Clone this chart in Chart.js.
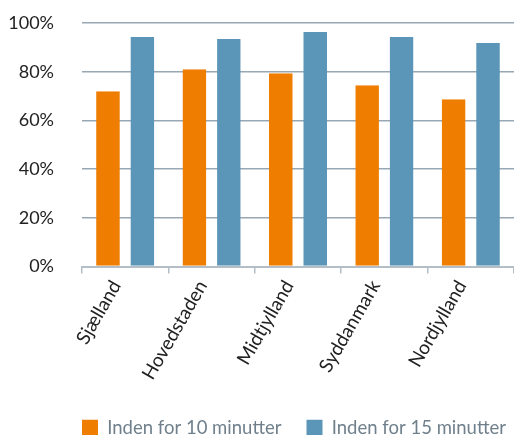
<!DOCTYPE html>
<html><head><meta charset="utf-8">
<script src="https://cdn.jsdelivr.net/npm/chart.js@4/dist/chart.umd.min.js"></script>
<style>html,body{margin:0;padding:0;background:#fff;}#wrap{width:514px;height:435px;}</style>
</head><body><div id="wrap"><canvas id="c"></canvas></div>
<script>
const categories = ["Sjælland", "Hovedstaden", "Midtjylland", "Syddanmark", "Nordjylland"];
const within10 = [72.0, 81.0, 79.4, 74.4, 68.7];
const within15 = [94.2, 93.4, 96.3, 94.2, 91.8];
const seriesNames = ["Inden for 10 minutter", "Inden for 15 minutter"];
const yTicks = [0, 20, 40, 60, 80, 100];

Chart.defaults.font.family = "Lato, 'Open Sans', sans-serif";
const shiftLegend = {
  id: 'shiftLegend',
  afterLayout(chart) { const lg = chart.legend; lg.left += 37; lg.right += 37; }
};
new Chart(document.getElementById('c'), {
  type: 'bar',
  data: {
    labels: categories,
    datasets: [
      { label: seriesNames[0], data: within10, backgroundColor: '#EF7D00', borderColor: 'rgba(0,0,0,0)',
        borderWidth: {left: 0, right: 5.5, top: 0, bottom: 0}, borderSkipped: false },
      { label: seriesNames[1], data: within15, backgroundColor: '#5B96B8', borderColor: 'rgba(0,0,0,0)',
        borderWidth: {left: 5.5, right: 0, top: 0, bottom: 0}, borderSkipped: false }
    ]
  },
  plugins: [shiftLegend],
  options: {
    responsive: true, maintainAspectRatio: false, animation: false,
    layout: { padding: { left: 0, top: 23, right: 0, bottom: -12 } },
    categoryPercentage: 0.673, barPercentage: 1,
    plugins: {
      tooltip: { enabled: false },
      legend: {
        position: 'bottom',
        labels: { boxWidth: 16, boxHeight: 16, font: { size: 18.5 }, color: '#6F808C', padding: 25, useBorderRadius: false }
      }
    },
    scales: {
      x: {
        offset: true,
        grid: { offset: true, drawOnChartArea: false, color: '#B4BEC6', lineWidth: 1.5, tickLength: 7 },
        border: { color: '#B4BEC6', width: 2 },
        ticks: { color: '#222', font: { size: 19 }, minRotation: 60, maxRotation: 60, padding: 3, labelOffset: -9 },
        afterFit: s => { s.paddingLeft = 0; s.paddingRight = 0; s.height = 127; }
      },
      y: {
        min: 0, max: 100,
        afterBuildTicks: s => { s.ticks = yTicks.map(v => ({ value: v })); },
        grid: { color: '#97A7B3', lineWidth: 1.5, drawTicks: false },
        border: { display: false },
        ticks: { color: '#222', font: { size: 18 }, padding: 28, callback: v => v + '%' },
        afterFit: s => { s.width = 82; s.paddingTop = 0; s.paddingBottom = 0; }
      }
    }
  }
});
</script></body></html>
